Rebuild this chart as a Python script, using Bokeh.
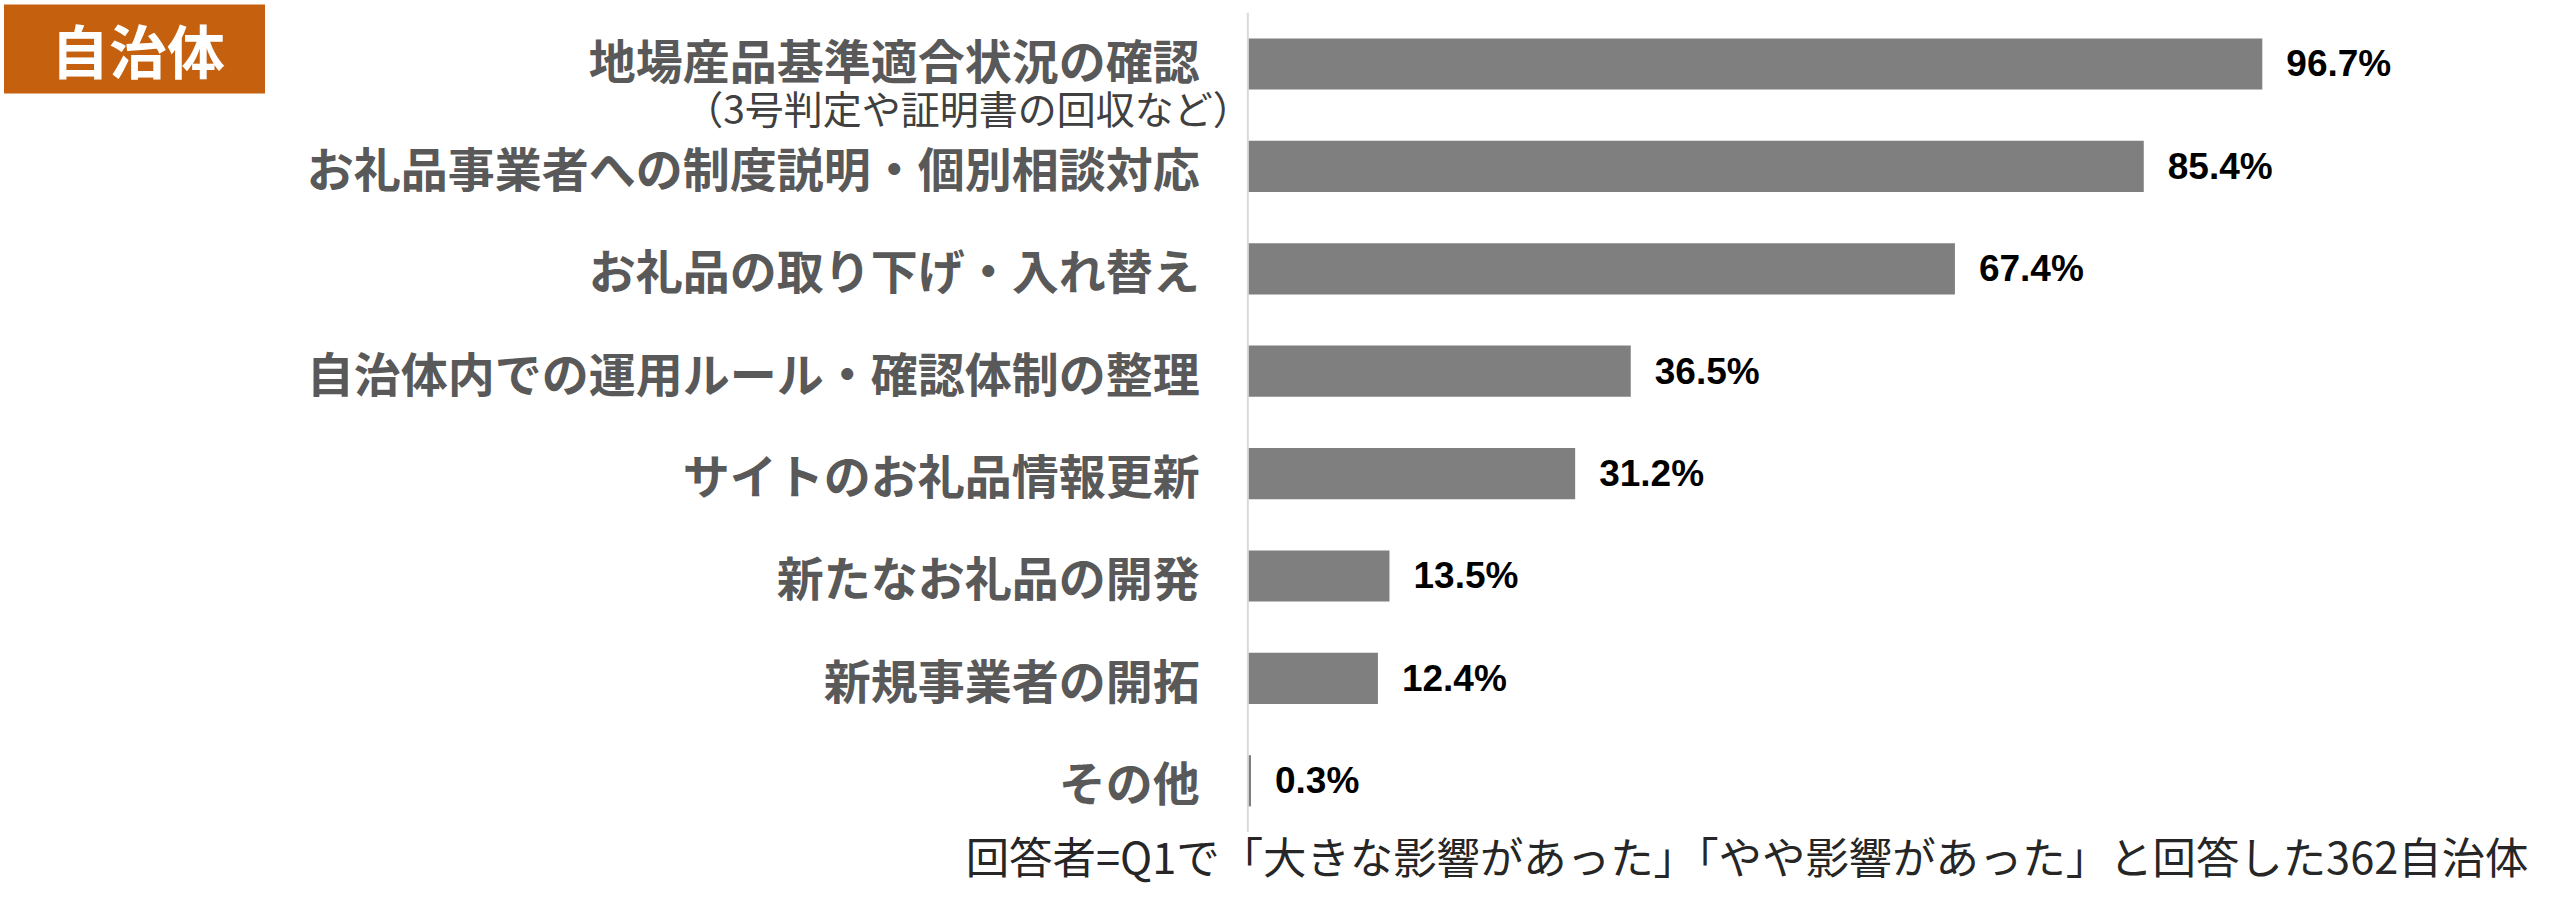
from bokeh.plotting import figure
from bokeh.models import Range1d, Label, ColumnDataSource
from bokeh.core.properties import value
from bokeh.embed import file_html
from bokeh.resources import INLINE

# data
categories = [
    "地場産品基準適合状況の確認",
    "お礼品事業者への制度説明・個別相談対応",
    "お礼品の取り下げ・入れ替え",
    "自治体内での運用ルール・確認体制の整理",
    "サイトのお礼品情報更新",
    "新たなお礼品の開発",
    "新規事業者の開拓",
    "その他",
]
values = [96.7, 85.4, 67.4, 36.5, 31.2, 13.5, 12.4, 0.3]
value_labels = [f"{v}%" for v in values]
sub_label = "（3号判定や証明書の回収など）"
badge = "自治体"
note = "回答者=Q1で「大きな影響があった」「やや影響があった」と回答した362自治体"

JP = "Noto Sans CJK JP"
LABEL_GRAY = "#595959"
BAR_GRAY = "#7F7F7F"

pos = list(range(len(categories)))
# the first label carries a second line, so it sits a little higher
label_dy = [-5 if i == 0 else 0 for i in pos]
src = ColumnDataSource(dict(pos=pos, cat=categories, val=values,
                            lab=value_labels, dy=label_dy))

# the plot frame fills the whole canvas; bars start at x = 0 (%)
XMIN, XMAX = -118.9, 123.6
p = figure(
    width=2544, height=900,
    x_range=Range1d(XMIN, XMAX),
    y_range=Range1d(8.169, -0.620),
    x_axis_location=None, y_axis_location=None,
    output_backend="svg", toolbar_location=None,
    min_border=0,
)
p.outline_line_color = None
p.grid.visible = False

p.hbar(y="pos", right="val", left=0, height=0.5, source=src,
       fill_color=BAR_GRAY, line_color=None)

# vertical axis line
p.segment(x0=[0], y0=[-0.5], x1=[0], y1=[len(categories) - 0.5],
          line_color="#D9D9D9", line_width=2)

# value labels
p.text(x="val", y="pos", text="lab", source=src, x_offset=24,
       text_baseline="middle", text_align="left",
       text_font=value("Liberation Sans"), text_font_style="bold",
       text_font_size="37px", text_color="black")

# category labels
p.text(x=0, y="pos", text="cat", source=src, x_offset=-48, y_offset="dy",
       text_baseline="middle", text_align="right",
       text_font=value(JP), text_font_style="bold",
       text_font_size="47px", text_color=LABEL_GRAY)

# sub label under the first category
p.text(x=[0], y=[0], text=[sub_label], x_offset=4, y_offset=43,
       text_baseline="middle", text_align="right",
       text_font=value(JP), text_font_size="39px", text_color="#404040")

# footnote
p.text(x=[XMAX], y=[len(categories) - 1], text=[note], x_offset=-16, y_offset=74,
       text_baseline="middle", text_align="right",
       text_font=value(JP), text_font_size="43.4px", text_color="#262626")

# orange badge
p.add_layout(Label(x=XMIN, y=0, x_offset=134, y_offset=15,
                   text=badge, text_align="center", text_baseline="middle",
                   text_font=JP, text_font_style="bold", text_font_size="58px",
                   text_color="white", background_fill_color="#C5600F",
                   padding=dict(left=47, right=40, top=3, bottom=2)))

open("out.html", "w").write(file_html(p, INLINE))
